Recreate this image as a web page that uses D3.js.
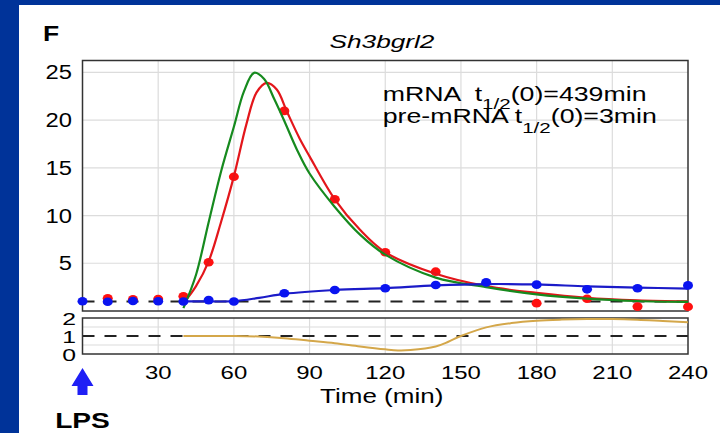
<!DOCTYPE html>
<html><head><meta charset="utf-8">
<script src="https://cdn.jsdelivr.net/npm/d3@7"></script>
<style>
html,body{margin:0;padding:0;background:#003399;}
svg{display:block;}
text{font-family:"Liberation Sans",Arial,sans-serif;}
</style></head>
<body>
<svg id="c" width="720" height="433"></svg>
<script>
// ---- data ----
const xTicks = [30, 60, 90, 120, 150, 180, 210, 240];
const yTicksTop = [5, 10, 15, 20, 25];
const yTicksBottom = [0, 1, 2];

const redDotT = [10, 20, 30, 40, 50, 60, 80, 100, 120, 140, 180, 200, 220, 240];
const redDotV = [1.34, 1.23, 1.25, 1.55, 5.1, 14.06, 20.96, 11.7, 6.15, 4.12, 0.82, 1.28, 0.46, 0.45];

const blueDotT = [0, 10, 20, 30, 40, 50, 60, 80, 100, 120, 140, 160, 180, 200, 220, 240];
const blueDotV = [1.02, 0.97, 1.04, 1.02, 1.0, 1.14, 1.0, 1.86, 2.2, 2.38, 2.72, 3.0, 2.76, 2.27, 2.38, 2.68];

const greenFitT = [40, 45, 50, 55, 60, 64, 68, 72, 76, 80, 85, 90, 100, 110, 120, 140, 160, 180, 200, 220, 240];
const greenFitV = [0.3, 3.8, 9.3, 14.7, 19.3, 23.0, 24.95, 24.3, 22.2, 19.9, 16.9, 14.4, 10.9, 8.0, 5.9, 3.5, 2.5, 1.75, 1.3, 1.05, 0.95];

const redFitT = [40, 45, 50, 55, 60, 65, 69, 73, 77, 81, 86, 90, 100, 110, 120, 140, 160, 180, 200, 220, 240];
const redFitV = [0.8, 2.6, 5.2, 9.4, 14.1, 19.6, 22.9, 23.9, 23.2, 20.9, 18.1, 16.2, 11.7, 8.5, 6.15, 3.9, 2.6, 1.9, 1.38, 1.12, 1.0];

const blueFitT = [40, 50, 60, 70, 80, 100, 120, 140, 160, 180, 200, 220, 240];
const blueFitV = [1.0, 1.0, 1.03, 1.38, 1.8, 2.2, 2.4, 2.68, 2.82, 2.78, 2.58, 2.45, 2.35];

const ratioT = [40, 60, 70, 80, 90, 100, 110, 120, 125, 130, 140, 145, 150, 160, 170, 180, 190, 200, 210, 220, 230, 240];
const ratioV = [1.0, 1.0, 0.97, 0.88, 0.74, 0.6, 0.42, 0.26, 0.2, 0.22, 0.42, 0.68, 1.0, 1.48, 1.72, 1.85, 1.91, 1.94, 1.94, 1.9, 1.83, 1.76];

const titleText = "Sh3bgrl2";
const panelLabel = "F";
const xAxisLabel = "Time (min)";
const arrowLabel = "LPS";

// ---- layout ----
const svg = d3.select("#c");
svg.append("rect").attr("x", 0).attr("y", 0).attr("width", 720).attr("height", 433).attr("fill", "#003399");
svg.append("rect").attr("x", 19).attr("y", 5).attr("width", 701).attr("height", 428).attr("fill", "#ffffff");

const x = d3.scaleLinear().domain([0, 240]).range([82.5, 688]);
const yT = d3.scaleLinear().domain([0, 26.24]).range([311, 60.5]);
const yB = d3.scaleLinear().domain([0, 2]).range([354, 318]);

function txt(parent, px, py, s, o) {
  o = o || {};
  const t = parent.append("text")
    .attr("transform", `translate(${px},${py}) scale(${o.sx || 1},1)`)
    .attr("font-size", o.size || 18)
    .attr("text-anchor", o.anchor || "start")
    .attr("fill", o.fill || "#000");
  if (o.weight) t.attr("font-weight", o.weight);
  if (o.style) t.attr("font-style", o.style);
  if (s !== null) t.text(s);
  return t;
}

// grid (top)
const gT = svg.append("g");
gT.selectAll("line.v").data(xTicks.filter(d => d < 240)).join("line")
  .attr("x1", d => x(d)).attr("x2", d => x(d)).attr("y1", yT(26.24)).attr("y2", yT(0))
  .attr("stroke", "#dcdcdc").attr("stroke-width", 1.2);
gT.selectAll("line.h").data(yTicksTop).join("line")
  .attr("x1", x(0)).attr("x2", x(240)).attr("y1", d => yT(d)).attr("y2", d => yT(d))
  .attr("stroke", "#dcdcdc").attr("stroke-width", 1.2);

// grid (bottom)
const gB = svg.append("g");
gB.selectAll("line.v").data(xTicks.filter(d => d < 240)).join("line")
  .attr("x1", d => x(d)).attr("x2", d => x(d)).attr("y1", yB(2)).attr("y2", yB(0))
  .attr("stroke", "#dcdcdc").attr("stroke-width", 1.2);
gB.selectAll("line.h").data([0.5, 1.5]).join("line")
  .attr("x1", x(0)).attr("x2", x(240)).attr("y1", d => yB(d)).attr("y2", d => yB(d))
  .attr("stroke", "#dcdcdc").attr("stroke-width", 1.2);

// dashed reference lines at 1
svg.append("line").attr("x1", x(0)).attr("x2", x(240)).attr("y1", yT(1)).attr("y2", yT(1))
  .attr("stroke", "#222").attr("stroke-width", 2).attr("stroke-dasharray", "12,10");
svg.append("line").attr("x1", x(0)).attr("x2", x(240)).attr("y1", yB(1)).attr("y2", yB(1))
  .attr("stroke", "#222").attr("stroke-width", 2).attr("stroke-dasharray", "12,10");

// frames
svg.append("rect").attr("x", x(0)).attr("y", yT(26.24)).attr("width", x(240) - x(0)).attr("height", yT(0) - yT(26.24))
  .attr("fill", "none").attr("stroke", "#333").attr("stroke-width", 1.5);
svg.append("rect").attr("x", x(0)).attr("y", yB(2)).attr("width", x(240) - x(0)).attr("height", yB(0) - yB(2))
  .attr("fill", "none").attr("stroke", "#333").attr("stroke-width", 1.5);

// ---- data marks ----
const zip = (a, b) => a.map((d, i) => [d, b[i]]);
const lineT = d3.line().x(d => x(d[0])).y(d => yT(d[1])).curve(d3.curveCatmullRom.alpha(0.5));
const lineB = d3.line().x(d => x(d[0])).y(d => yB(d[1])).curve(d3.curveCatmullRom.alpha(0.5));

svg.append("g").selectAll("ellipse").data(zip(redDotT, redDotV)).join("ellipse")
  .attr("cx", d => x(d[0])).attr("cy", d => yT(d[1])).attr("rx", 5).attr("ry", 4.3).attr("fill", "#ff1010");

svg.append("path").attr("d", lineT(zip(redFitT, redFitV))).attr("fill", "none").attr("stroke", "#e3161b").attr("stroke-width", 2.2);
svg.append("path").attr("d", lineT(zip(greenFitT, greenFitV))).attr("fill", "none").attr("stroke", "#168a1e").attr("stroke-width", 2.2);
svg.append("path").attr("d", lineT(zip(blueFitT, blueFitV))).attr("fill", "none").attr("stroke", "#1b1bc8").attr("stroke-width", 2.2);

svg.append("g").selectAll("ellipse").data(zip(blueDotT, blueDotV)).join("ellipse")
  .attr("cx", d => x(d[0])).attr("cy", d => yT(d[1])).attr("rx", 5).attr("ry", 4.3).attr("fill", "#0a14f0");

svg.append("path").attr("d", lineB(zip(ratioT, ratioV))).attr("fill", "none").attr("stroke", "#d4a74a").attr("stroke-width", 2);

// ---- text ----
const gAx = svg.append("g");
yTicksTop.forEach(d => txt(gAx, 72, yT(d) + 7, String(d), {size: 19.5, anchor: "end", sx: 1.22}));
yTicksBottom.forEach(d => txt(gAx, 76, yB(d) + 7, String(d), {size: 16.5, anchor: "end", sx: 1.5}));
xTicks.forEach(d => txt(gAx, x(d), 379.3, String(d), {size: 18, anchor: "middle", sx: 1.33}));
txt(svg, 381.7, 403.3, xAxisLabel, {size: 20, anchor: "middle", sx: 1.3});

txt(svg, 382, 48, titleText, {size: 19, anchor: "middle", style: "italic", sx: 1.38});
txt(svg, 43, 40.7, panelLabel, {size: 22, weight: "bold", sx: 1.2});

// legend
const l1 = txt(svg, 382.7, 100.7, null, {size: 19.5, sx: 1.37}).attr("style", "white-space:pre");
l1.append("tspan").text("mRNA  t");
l1.append("tspan").attr("font-size", 15).attr("dy", 8).text("1/2");
l1.append("tspan").attr("dy", -8).text("(0)=439min");
const l2 = txt(svg, 382.7, 123, null, {size: 19.5, sx: 1.37}).attr("style", "white-space:pre");
l2.append("tspan").text("pre-mRNA t");
l2.append("tspan").attr("font-size", 15).attr("dy", 10).text("1/2");
l2.append("tspan").attr("dy", -10).text("(0)=3min");

// LPS arrow
const ax = x(0);
svg.append("path")
  .attr("d", `M${ax - 11},386 L${ax},368 L${ax + 11},386 L${ax + 5},386 L${ax + 5},395 L${ax - 5},395 L${ax - 5},386 Z`)
  .attr("fill", "#1f1ff5");
txt(svg, ax, 428.3, arrowLabel, {size: 22, weight: "bold", anchor: "middle", sx: 1.28});
</script>
</body></html>
